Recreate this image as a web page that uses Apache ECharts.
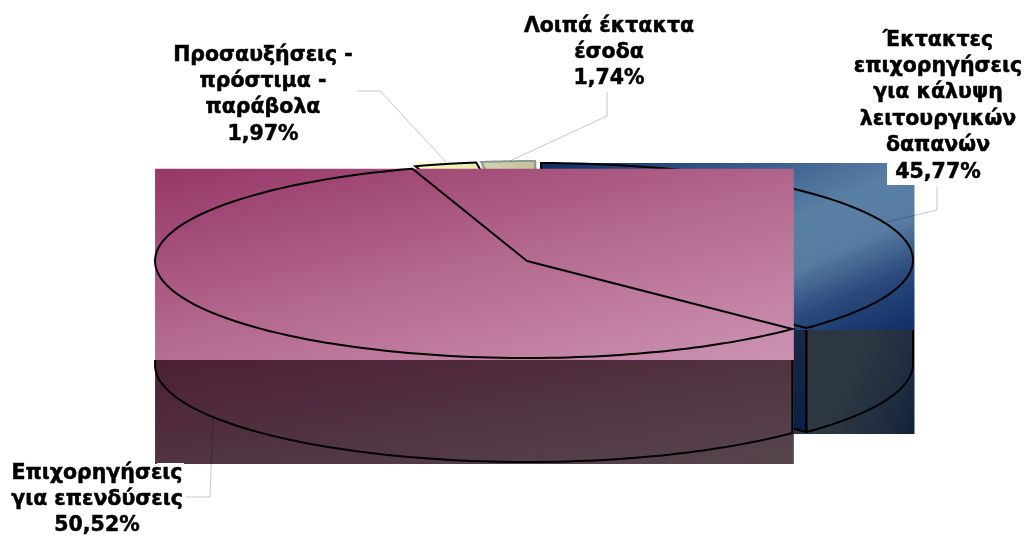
<!DOCTYPE html>
<html>
<head>
<meta charset="utf-8">
<style>html,body{margin:0;background:#fff}#box{width:1027px;height:536px}</style>
<script src="https://cdn.jsdelivr.net/npm/echarts@6/dist/echarts.min.js"></script>
</head>
<body>
<div id="box"></div>
<script>
// clockwise from 12 o'clock, same order as the source chart
const names = [
  'Έκτακτες\nεπιχορηγήσεις\nγια κάλυψη\nλειτουργικών\nδαπανών',
  'Επιχορηγήσεις\nγια επενδύσεις',
  'Προσαυξήσεις -\nπρόστιμα -\nπαράβολα',
  'Λοιπά έκτακτα\nέσοδα'
];
const values = [45.77, 50.52, 1.97, 1.74];

// back slices first, the big one sits on top of everything
const drawOrder = [3, 2, 0, 1];

const RX = 372, RY = 97, DEPTH = 104;
const centers = [[541, 260], [527, 261], [530, 258.5], [535, 258]];
const grad = (x2, y2, stops) => new echarts.graphic.LinearGradient(0, 0, x2, y2,
  stops.map(s => ({ offset: s[0], color: s[1] })));
const topFills = [
  grad(0.326, 1.68, [[0, '#0e2c5e'], [0.15, '#24477b'], [0.5, '#5a7fa5'], [0.65, '#587ca1'], [0.8, '#2a4a7c'], [1, '#0e2c66']]),
  grad(0.124, 1.71, [[0, '#963768'], [0.5, '#b4698e'], [1, '#cc93b2']]),
  grad(1, 0, [[0, '#fefccb'], [1, '#ece8aa']]),
  grad(1, 0, [[0, '#d3d3ae'], [1, '#c2c299']])
];
const sideFills = [
  grad(1, 1.5, [[0, '#2d3742'], [0.75, '#2d3742'], [0.88, '#1f2c3f'], [1, '#051a3e']]),
  grad(0.05, 1.95, [[0, '#4c2035'], [1, '#56464e']]),
  '#777', '#777'
];
const strokes = ['#000', '#000', '#000', '#8a9a9a'];

const labelPos = [[938, 27], [97, 460], [263, 42], [609, 13]];
const leaders = [
  [[937, 187], [937, 210], [887, 222]],
  [[213, 417], [210, 497], [186, 497]],
  [[357, 91], [380, 91], [447, 163]],
  [[607, 92], [607, 116], [510, 161]]
];
// white patches behind the labels where they run over the slices
const labelBoxes = [[887, 163, 96, 22], [157, 463, 27, 3]];

const total = values.reduce((a, b) => a + b, 0);
const rad = d => d * Math.PI / 180;

// excel's perspective squeezes the back of the pie and stretches the front
function warp(d) {
  return d + 17.78 * (Math.cos(rad(d)) - 1) + 17.76 * Math.sin(rad(d));
}

function slicePoints(i) {
  const from = values.slice(0, i).reduce((a, b) => a + b, 0) / total * 360;
  const to = from + values[i] / total * 360;
  const c = centers[i];
  const pts = [];
  for (let k = 0; k <= 120; k++) {
    const a = rad(warp(from + (to - from) * k / 120));
    pts.push([c[0] + RX * Math.sin(a), c[1] - RY * Math.cos(a)]);
  }
  return pts;
}

function renderSlice(params, api) {
  const i = api.value(1);
  const c = centers[i];
  const arc = slicePoints(i);
  const wedge = [c].concat(arc, [c]);
  const xs = arc.map(p => p[0]), ys = wedge.map(p => p[1]);
  const x0 = Math.min(...xs), x1 = Math.max(...xs) + 1.5;
  const y0 = Math.min(...ys), y1 = Math.max(...ys) + 2;
  const line = { stroke: strokes[i], lineWidth: 2, fill: null };
  const rect = (y, h, fill) => ({ type: 'rect', shape: { x: x0, y: y, width: x1 - x0, height: h }, style: { fill: fill } });
  const children = [rect(y1, DEPTH, sideFills[i])];

  // outer wall, only the part of the rim facing the viewer
  const front = arc.filter(p => p[1] >= c[1] - 0.5).map(p => [p[0], p[1] + DEPTH]);
  if (front.length > 1) {
    const first = front[0], last = front[front.length - 1];
    children.push({
      type: 'polyline',
      shape: { points: [[first[0], y1]].concat(front, [[last[0], y1]]) },
      style: line
    });
  }
  // cut face of the blue slice, peeks out from under the pink one
  if (i === 0) {
    const end = arc[arc.length - 1];
    children.push({
      type: 'polygon',
      shape: { points: [c, end, [end[0], end[1] + DEPTH], [c[0], c[1] + DEPTH]] },
      style: { fill: grad(0, 1, [[0, '#202d3f'], [1, '#0a2147']]), stroke: '#000', lineWidth: 2 }
    });
  }
  children.push(rect(y0, y1 - y0, topFills[i]));
  children.push({ type: 'polyline', shape: { points: wedge }, style: line });
  return { type: 'group', children: children };
}

function renderLabel(params, api) {
  const i = api.value(1);
  const children = [{
    type: 'polyline',
    shape: { points: leaders[i] },
    style: { stroke: 'rgba(0,0,0,0.22)', lineWidth: 1, fill: null }
  }];
  children.push({
    type: 'text',
    style: {
      x: labelPos[i][0], y: labelPos[i][1],
      text: names[i] + '\n' + values[i].toFixed(2).replace('.', ',') + '%',
      fill: '#000',
      stroke: '#000',
      lineWidth: 0.5,
      font: 'bold 20.5px "DejaVu Sans"',
      lineHeight: 26.4,
      align: 'center',
      verticalAlign: 'top'
    }
  });
  return { type: 'group', children: children };
}

const chart = echarts.init(document.getElementById('box'), null, { renderer: 'canvas' });
chart.setOption({
  animation: false,
  backgroundColor: '#fff',
  series: [
    {
      type: 'custom',
      coordinateSystem: 'none',
      silent: true,
      z: 1,
      data: drawOrder.map(i => [values[i], i]),
      renderItem: renderSlice
    },
    {
      type: 'custom',
      coordinateSystem: 'none',
      silent: true,
      z: 2,
      data: labelBoxes,
      renderItem: (params, api) => ({
        type: 'rect',
        shape: { x: api.value(0), y: api.value(1), width: api.value(2), height: api.value(3) },
        style: { fill: '#fff' }
      })
    },
    {
      type: 'custom',
      coordinateSystem: 'none',
      silent: true,
      z: 3,
      data: values.map((v, i) => [v, i]),
      renderItem: renderLabel
    }
  ]
});
</script>
</body>
</html>
